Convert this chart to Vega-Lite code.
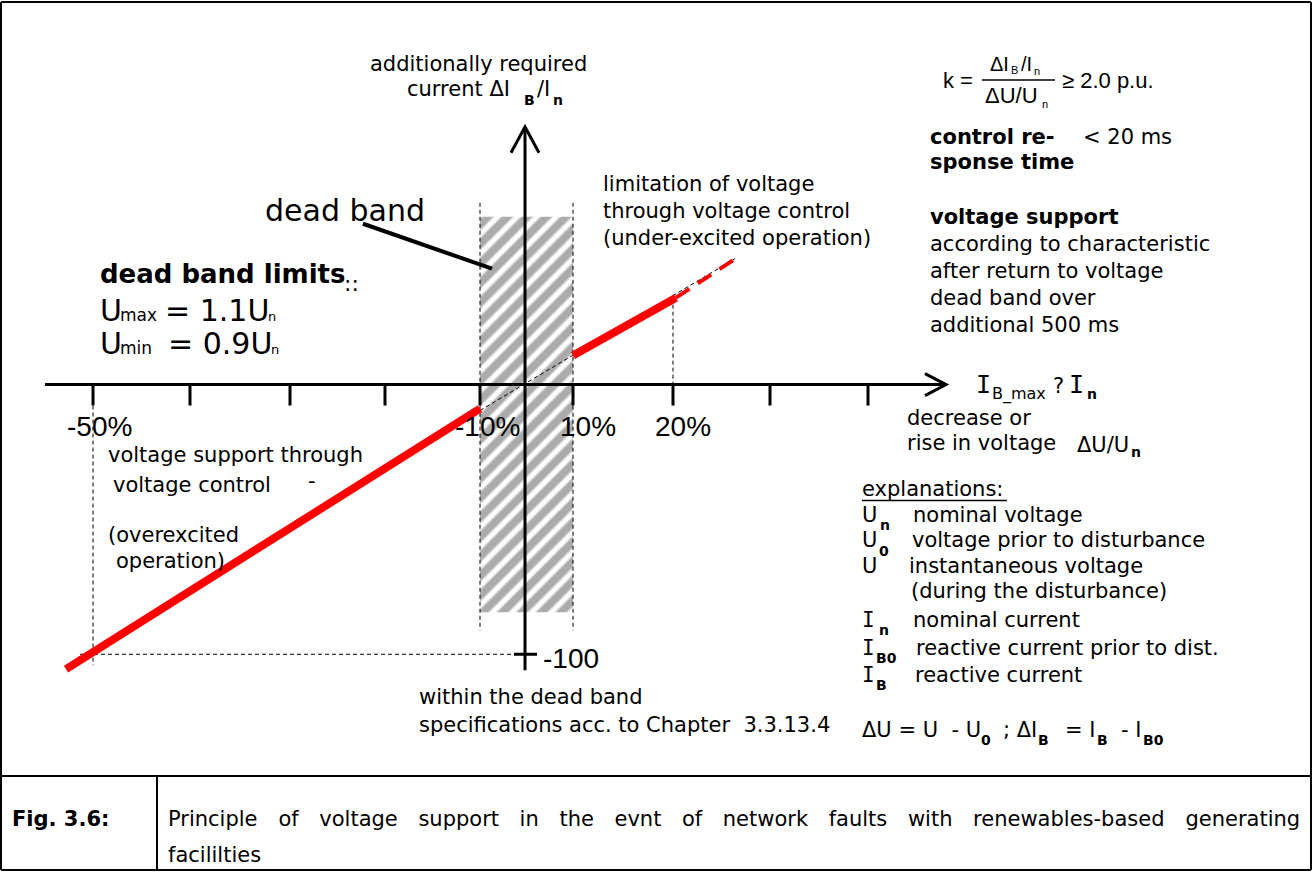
{
"$schema": "https://vega.github.io/schema/vega-lite/v6.json",
"width": 1313, "height": 872,
"autosize": {"type": "fit", "contains": "padding"},
"padding": 0,
"background": "white",
"config": {"view": {"stroke": null}},
"datasets": {
"hatch": [{"u": -45, "u2": 48, "v": 168, "v2": -228}],
"dashed": [
 {"u": -45, "v": 182, "u2": -45, "v2": -246},
 {"u": 48, "v": 182, "u2": 48, "v2": -246},
 {"u": -45, "v": -26, "u2": 210, "v2": 126},
 {"u": 148, "v": 87, "u2": 148, "v2": 0},
 {"u": -445, "v": -270, "u2": -10, "v2": -270},
 {"u": -432, "v": -21, "u2": -432, "v2": -281}
],
"frame": [
 {"u": -524, "v": 383, "u2": 786, "v2": 383},
 {"u": -524, "v": -486, "u2": 786, "v2": -486},
 {"u": -524, "v": 383, "u2": -524, "v2": -486},
 {"u": 786, "v": 383, "u2": 786, "v2": -486},
 {"u": -524, "v": -392, "u2": 786, "v2": -392},
 {"u": -368, "v": -392, "u2": -368, "v2": -486}
],
"axes": [
 {"u": -480, "v": 0, "u2": 419, "v2": 0},
 {"u": 0, "v": 257, "u2": 0, "v2": -286},
 {"u": -432, "v": 0, "u2": -432, "v2": -21},
 {"u": -335, "v": 0, "u2": -335, "v2": -21},
 {"u": -235, "v": 0, "u2": -235, "v2": -21},
 {"u": -140, "v": 0, "u2": -140, "v2": -21},
 {"u": -45, "v": 0, "u2": -45, "v2": -21},
 {"u": 48, "v": 0, "u2": 48, "v2": -21},
 {"u": 148, "v": 0, "u2": 148, "v2": -21},
 {"u": 245, "v": 0, "u2": 245, "v2": -21},
 {"u": 343, "v": 0, "u2": 343, "v2": -21},
 {"u": -11, "v": -270, "u2": 12, "v2": -270}
],
"arrows": [
 {"g": "top", "i": 0, "u": -14, "v": 232}, {"g": "top", "i": 1, "u": 0, "v": 258}, {"g": "top", "i": 2, "u": 14, "v": 232},
 {"g": "right", "i": 0, "u": 400, "v": 11}, {"g": "right", "i": 1, "u": 421, "v": 0}, {"g": "right", "i": 2, "u": 400, "v": -11}
],
"pointer": [{"u": -162, "v": 161, "u2": -33, "v2": 116}],
"thin": [{"u": 457, "v": 305, "u2": 530, "v2": 305}, {"u": 337, "v": -116, "u2": 482, "v2": -116}],
"redthick": [{"u": -459, "v": -285, "u2": -45, "v2": -24}, {"u": 48, "v": 29, "u2": 151, "v2": 87}],
"reddash": [{"u": 151, "v": 87, "u2": 209, "v2": 125}],
"txt21": [
 {"t": "additionally required", "u": -155, "v": 314},
 {"t": "current ΔI", "u": -118, "v": 289},
 {"t": "/I", "u": 12, "v": 289},
 {"t": "limitation of voltage", "u": 78, "v": 194},
 {"t": "through voltage control", "u": 78, "v": 167},
 {"t": "(under-excited operation)", "u": 78, "v": 140},
 {"t": "< 20 ms", "u": 558, "v": 241},
 {"t": "according to characteristic", "u": 405, "v": 134},
 {"t": "after return to voltage", "u": 405, "v": 107},
 {"t": "dead band over", "u": 405, "v": 80},
 {"t": "additional 500 ms", "u": 405, "v": 53},
 {"t": "decrease or", "u": 382, "v": -40},
 {"t": "rise in voltage", "u": 382, "v": -66},
 {"t": "ΔU/U", "u": 552, "v": -68},
 {"t": "?", "u": 528, "v": -8},
 {"t": "voltage support through", "u": -417, "v": -78},
 {"t": "voltage control", "u": -412, "v": -108},
 {"t": "-", "u": -217, "v": -104},
 {"t": "(overexcited", "u": -417, "v": -158},
 {"t": "operation)", "u": -409, "v": -184},
 {"t": "within the dead band", "u": -106, "v": -320},
 {"t": "specifications acc. to Chapter\u00a0 3.3.13.4", "u": -106, "v": -348},
 {"t": "explanations:", "u": 337, "v": -112},
 {"t": "U", "u": 337, "v": -138},
 {"t": "nominal voltage", "u": 388, "v": -138},
 {"t": "U", "u": 337, "v": -163},
 {"t": "voltage prior to disturbance", "u": 387, "v": -163},
 {"t": "U", "u": 337, "v": -189},
 {"t": "instantaneous voltage", "u": 384, "v": -189},
 {"t": "(during the disturbance)", "u": 386, "v": -214},
 {"t": "nominal current", "u": 388, "v": -243},
 {"t": "reactive current prior to dist.", "u": 391, "v": -271},
 {"t": "reactive current", "u": 390, "v": -298},
 {"t": "ΔU = U\u00a0 - U", "u": 337, "v": -353},
 {"t": "; ΔI", "u": 478, "v": -353},
 {"t": "= I", "u": 540, "v": -353},
 {"t": "- I", "u": 596, "v": -353},
 {"t": "Principle", "u": -357, "v": -442},
 {"t": "of", "u": -246.5, "v": -442},
 {"t": "voltage", "u": -205.7, "v": -442},
 {"t": "support", "u": -106.6, "v": -442},
 {"t": "in", "u": -5.4, "v": -442},
 {"t": "the", "u": 34.4, "v": -442},
 {"t": "evnt", "u": 89.5, "v": -442},
 {"t": "of", "u": 157, "v": -442},
 {"t": "network", "u": 197.8, "v": -442},
 {"t": "faults", "u": 303.7, "v": -442},
 {"t": "with", "u": 382.9, "v": -442},
 {"t": "renewables-based", "u": 448.1, "v": -442},
 {"t": "generating", "u": 660.5, "v": -442},
 {"t": "facililties", "u": -357, "v": -478}
],
"mono21": [
 {"t": "I", "u": 337, "v": -243},
 {"t": "I", "u": 337, "v": -271},
 {"t": "I", "u": 337, "v": -298}
],
"mono25": [
 {"t": "I", "u": 451, "v": -8},
 {"t": "I", "u": 544, "v": -8}
],
"sub14": [
 {"t": "B", "u": -1, "v": 280},
 {"t": "n", "u": 28, "v": 280},
 {"t": "n", "u": 562, "v": -14},
 {"t": "n", "u": 606, "v": -73},
 {"t": "n", "u": 355, "v": -146},
 {"t": "0", "u": 354, "v": -172},
 {"t": "n", "u": 354, "v": -251},
 {"t": "B0", "u": 351, "v": -279},
 {"t": "B", "u": 351, "v": -306},
 {"t": "0", "u": 456, "v": -361},
 {"t": "B", "u": 513, "v": -361},
 {"t": "B", "u": 572, "v": -361},
 {"t": "B0", "u": 618, "v": -361}
],
"bold21": [
 {"t": "control re-", "u": 405, "v": 241},
 {"t": "sponse time", "u": 405, "v": 216},
 {"t": "voltage support", "u": 405, "v": 161},
 {"t": "Fig. 3.6:", "u": -513, "v": -442}
],
"bold26": [{"t": "dead band limits", "u": -425, "v": 102}],
"big30": [
 {"t": "dead band", "u": -260, "v": 164},
 {"t": "U", "u": -425, "v": 64},
 {"t": "= 1.1U", "u": -360, "v": 64},
 {"t": "U", "u": -425, "v": 31},
 {"t": "= 0.9U", "u": -357, "v": 31}
],
"sub17": [
 {"t": "max", "u": -405, "v": 64},
 {"t": "min", "u": -405, "v": 31}
],
"sub16": [
 {"t": "B_max", "u": 467, "v": -14}
],
"sub13": [
 {"t": "n", "u": -257, "v": 64},
 {"t": "n", "u": -254, "v": 31}
],
"colon22": [{"t": "::", "u": -181, "v": 94}],
"arial28": [
 {"t": "-50%", "u": -458, "v": -51},
 {"t": "-10%", "u": -70, "v": -51},
 {"t": "10%", "u": 35, "v": -51},
 {"t": "20%", "u": 130, "v": -51},
 {"t": "-100", "u": 18, "v": -284}
],
"arial22": [
 {"t": "k =", "u": 418, "v": 297},
 {"t": "≥ 2.0 p.u.", "u": 537, "v": 297},
 {"t": "ΔU/U", "u": 460, "v": 282}
],
"arial20": [
 {"t": "ΔI", "u": 465, "v": 314},
 {"t": "/I", "u": 496, "v": 314}
],
"arial11": [
 {"t": "B", "u": 486, "v": 311},
 {"t": "n", "u": 509, "v": 310},
 {"t": "n", "u": 517, "v": 277}
]
},
"encoding": {
 "x": {"field": "u", "type": "quantitative", "scale": {"domain": [-525, 788], "nice": false, "zero": false}, "axis": null},
 "y": {"field": "v", "type": "quantitative", "scale": {"domain": [-488, 384], "nice": false, "zero": false}, "axis": null}
},
"layer": [
 {"data": {"name": "hatch"},
  "mark": {"type": "rect", "stroke": null, "fill": {"gradient": "linear", "x1": 0, "y1": 0, "x2": 0.2748, "y2": 1.17, "stops": [
   {"offset": 0, "color": "#ffffff"}, {"offset": 0.008, "color": "#ababab"}, {"offset": 0.024, "color": "#ababab"}, {"offset": 0.032, "color": "#ffffff"},
   {"offset": 0.04, "color": "#ffffff"}, {"offset": 0.048, "color": "#ababab"}, {"offset": 0.064, "color": "#ababab"}, {"offset": 0.072, "color": "#ffffff"},
   {"offset": 0.08, "color": "#ffffff"}, {"offset": 0.088, "color": "#ababab"}, {"offset": 0.104, "color": "#ababab"}, {"offset": 0.112, "color": "#ffffff"},
   {"offset": 0.12, "color": "#ffffff"}, {"offset": 0.128, "color": "#ababab"}, {"offset": 0.144, "color": "#ababab"}, {"offset": 0.152, "color": "#ffffff"},
   {"offset": 0.16, "color": "#ffffff"}, {"offset": 0.168, "color": "#ababab"}, {"offset": 0.184, "color": "#ababab"}, {"offset": 0.192, "color": "#ffffff"},
   {"offset": 0.2, "color": "#ffffff"}, {"offset": 0.208, "color": "#ababab"}, {"offset": 0.224, "color": "#ababab"}, {"offset": 0.232, "color": "#ffffff"},
   {"offset": 0.24, "color": "#ffffff"}, {"offset": 0.248, "color": "#ababab"}, {"offset": 0.264, "color": "#ababab"}, {"offset": 0.272, "color": "#ffffff"},
   {"offset": 0.28, "color": "#ffffff"}, {"offset": 0.288, "color": "#ababab"}, {"offset": 0.304, "color": "#ababab"}, {"offset": 0.312, "color": "#ffffff"},
   {"offset": 0.32, "color": "#ffffff"}, {"offset": 0.328, "color": "#ababab"}, {"offset": 0.344, "color": "#ababab"}, {"offset": 0.352, "color": "#ffffff"},
   {"offset": 0.36, "color": "#ffffff"}, {"offset": 0.368, "color": "#ababab"}, {"offset": 0.384, "color": "#ababab"}, {"offset": 0.392, "color": "#ffffff"},
   {"offset": 0.4, "color": "#ffffff"}, {"offset": 0.408, "color": "#ababab"}, {"offset": 0.424, "color": "#ababab"}, {"offset": 0.432, "color": "#ffffff"},
   {"offset": 0.44, "color": "#ffffff"}, {"offset": 0.448, "color": "#ababab"}, {"offset": 0.464, "color": "#ababab"}, {"offset": 0.472, "color": "#ffffff"},
   {"offset": 0.48, "color": "#ffffff"}, {"offset": 0.488, "color": "#ababab"}, {"offset": 0.504, "color": "#ababab"}, {"offset": 0.512, "color": "#ffffff"},
   {"offset": 0.52, "color": "#ffffff"}, {"offset": 0.528, "color": "#ababab"}, {"offset": 0.544, "color": "#ababab"}, {"offset": 0.552, "color": "#ffffff"},
   {"offset": 0.56, "color": "#ffffff"}, {"offset": 0.568, "color": "#ababab"}, {"offset": 0.584, "color": "#ababab"}, {"offset": 0.592, "color": "#ffffff"},
   {"offset": 0.6, "color": "#ffffff"}, {"offset": 0.608, "color": "#ababab"}, {"offset": 0.624, "color": "#ababab"}, {"offset": 0.632, "color": "#ffffff"},
   {"offset": 0.64, "color": "#ffffff"}, {"offset": 0.648, "color": "#ababab"}, {"offset": 0.664, "color": "#ababab"}, {"offset": 0.672, "color": "#ffffff"},
   {"offset": 0.68, "color": "#ffffff"}, {"offset": 0.688, "color": "#ababab"}, {"offset": 0.704, "color": "#ababab"}, {"offset": 0.712, "color": "#ffffff"},
   {"offset": 0.72, "color": "#ffffff"}, {"offset": 0.728, "color": "#ababab"}, {"offset": 0.744, "color": "#ababab"}, {"offset": 0.752, "color": "#ffffff"},
   {"offset": 0.76, "color": "#ffffff"}, {"offset": 0.768, "color": "#ababab"}, {"offset": 0.784, "color": "#ababab"}, {"offset": 0.792, "color": "#ffffff"},
   {"offset": 0.8, "color": "#ffffff"}, {"offset": 0.808, "color": "#ababab"}, {"offset": 0.824, "color": "#ababab"}, {"offset": 0.832, "color": "#ffffff"},
   {"offset": 0.84, "color": "#ffffff"}, {"offset": 0.848, "color": "#ababab"}, {"offset": 0.864, "color": "#ababab"}, {"offset": 0.872, "color": "#ffffff"},
   {"offset": 0.88, "color": "#ffffff"}, {"offset": 0.888, "color": "#ababab"}, {"offset": 0.904, "color": "#ababab"}, {"offset": 0.912, "color": "#ffffff"},
   {"offset": 0.92, "color": "#ffffff"}, {"offset": 0.928, "color": "#ababab"}, {"offset": 0.944, "color": "#ababab"}, {"offset": 0.952, "color": "#ffffff"},
   {"offset": 0.96, "color": "#ffffff"}, {"offset": 0.968, "color": "#ababab"}, {"offset": 0.984, "color": "#ababab"}, {"offset": 0.992, "color": "#ffffff"},
   {"offset": 1, "color": "#ffffff"}]}},
  "encoding": {"x2": {"field": "u2"}, "y2": {"field": "v2"}}},
 {"data": {"name": "dashed"}, "mark": {"type": "rule", "color": "black", "strokeWidth": 1, "strokeDash": [4, 3]},
  "encoding": {"x2": {"field": "u2"}, "y2": {"field": "v2"}}},
 {"data": {"name": "frame"}, "mark": {"type": "rule", "color": "black", "strokeWidth": 2},
  "encoding": {"x2": {"field": "u2"}, "y2": {"field": "v2"}}},
 {"data": {"name": "axes"}, "mark": {"type": "rule", "color": "black", "strokeWidth": 3},
  "encoding": {"x2": {"field": "u2"}, "y2": {"field": "v2"}}},
 {"data": {"name": "arrows"}, "mark": {"type": "line", "color": "black", "strokeWidth": 3, "strokeJoin": "miter"},
  "encoding": {"detail": {"field": "g"}, "order": {"field": "i"}}},
 {"data": {"name": "pointer"}, "mark": {"type": "rule", "color": "black", "strokeWidth": 4},
  "encoding": {"x2": {"field": "u2"}, "y2": {"field": "v2"}}},
 {"data": {"name": "thin"}, "mark": {"type": "rule", "color": "black", "strokeWidth": 1.5},
  "encoding": {"x2": {"field": "u2"}, "y2": {"field": "v2"}}},
 {"data": {"name": "redthick"}, "mark": {"type": "rule", "color": "#ff0000", "strokeWidth": 8},
  "encoding": {"x2": {"field": "u2"}, "y2": {"field": "v2"}}},
 {"data": {"name": "reddash"}, "mark": {"type": "rule", "color": "#ff0000", "strokeWidth": 4, "strokeDash": [16, 10]},
  "encoding": {"x2": {"field": "u2"}, "y2": {"field": "v2"}}},
 {"data": {"name": "txt21"}, "mark": {"type": "text", "align": "left", "baseline": "alphabetic", "font": "DejaVu Sans", "fontSize": 21, "color": "black"},
  "encoding": {"text": {"field": "t"}}},
 {"data": {"name": "mono21"}, "mark": {"type": "text", "align": "left", "baseline": "alphabetic", "font": "DejaVu Sans Mono", "fontSize": 21, "color": "black"},
  "encoding": {"text": {"field": "t"}}},
 {"data": {"name": "mono25"}, "mark": {"type": "text", "align": "left", "baseline": "alphabetic", "font": "DejaVu Sans Mono", "fontSize": 25, "color": "black"},
  "encoding": {"text": {"field": "t"}}},
 {"data": {"name": "sub14"}, "mark": {"type": "text", "align": "left", "baseline": "alphabetic", "font": "DejaVu Sans", "fontSize": 14, "fontWeight": "bold", "color": "black"},
  "encoding": {"text": {"field": "t"}}},
 {"data": {"name": "bold21"}, "mark": {"type": "text", "align": "left", "baseline": "alphabetic", "font": "DejaVu Sans", "fontSize": 21, "fontWeight": "bold", "color": "black"},
  "encoding": {"text": {"field": "t"}}},
 {"data": {"name": "bold26"}, "mark": {"type": "text", "align": "left", "baseline": "alphabetic", "font": "DejaVu Sans", "fontSize": 26, "fontWeight": "bold", "color": "black"},
  "encoding": {"text": {"field": "t"}}},
 {"data": {"name": "big30"}, "mark": {"type": "text", "align": "left", "baseline": "alphabetic", "font": "DejaVu Sans", "fontSize": 30, "color": "black"},
  "encoding": {"text": {"field": "t"}}},
 {"data": {"name": "sub17"}, "mark": {"type": "text", "align": "left", "baseline": "alphabetic", "font": "DejaVu Sans", "fontSize": 17, "color": "black"},
  "encoding": {"text": {"field": "t"}}},
 {"data": {"name": "sub16"}, "mark": {"type": "text", "align": "left", "baseline": "alphabetic", "font": "DejaVu Sans", "fontSize": 16, "color": "black"},
  "encoding": {"text": {"field": "t"}}},
 {"data": {"name": "sub13"}, "mark": {"type": "text", "align": "left", "baseline": "alphabetic", "font": "DejaVu Sans", "fontSize": 13, "color": "black"},
  "encoding": {"text": {"field": "t"}}},
 {"data": {"name": "colon22"}, "mark": {"type": "text", "align": "left", "baseline": "alphabetic", "font": "DejaVu Sans", "fontSize": 22, "color": "black"},
  "encoding": {"text": {"field": "t"}}},
 {"data": {"name": "arial28"}, "mark": {"type": "text", "align": "left", "baseline": "alphabetic", "font": "Liberation Sans", "fontSize": 28, "color": "black"},
  "encoding": {"text": {"field": "t"}}},
 {"data": {"name": "arial22"}, "mark": {"type": "text", "align": "left", "baseline": "alphabetic", "font": "Liberation Sans", "fontSize": 22, "color": "black"},
  "encoding": {"text": {"field": "t"}}},
 {"data": {"name": "arial20"}, "mark": {"type": "text", "align": "left", "baseline": "alphabetic", "font": "Liberation Sans", "fontSize": 20, "color": "black"},
  "encoding": {"text": {"field": "t"}}},
 {"data": {"name": "arial11"}, "mark": {"type": "text", "align": "left", "baseline": "alphabetic", "font": "Liberation Sans", "fontSize": 11, "color": "black"},
  "encoding": {"text": {"field": "t"}}}
]
}
